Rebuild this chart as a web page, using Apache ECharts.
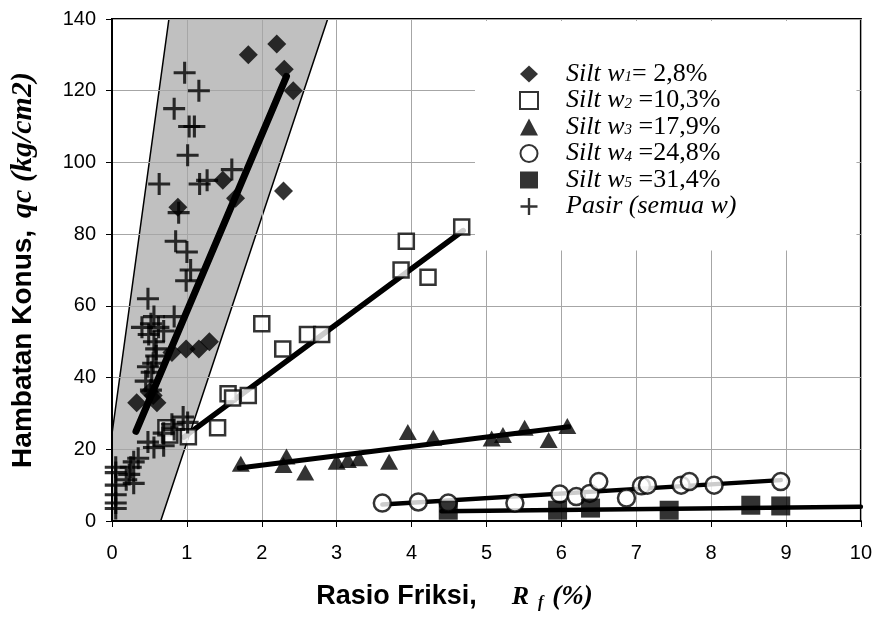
<!DOCTYPE html>
<html>
<head>
<meta charset="utf-8">
<script src="https://cdn.jsdelivr.net/npm/echarts@6/dist/echarts.min.js"></script>
<style>
  html, body { margin: 0; padding: 0; background: #fff; }
  #chart { width: 875px; height: 618px; }
</style>
</head>
<body>
<div id="chart"></div>
<script>
// Cone resistance qc (kg/cm2) versus friction ratio Rf (%) per soil group
const silt1 = [[1.82,130],[2.2,133],[2.3,126],[2.42,120],[2.29,92],[1.65,90],[1.48,95],[0.88,87.5],
  [0.8,47],[0.99,48],[1.16,48],[1.3,50],[0.33,33],[0.5,36],[0.55,35],[0.6,33]];
const silt2 = [[4.67,82],[3.93,78],[3.86,70],[4.22,68],[2.0,55],[2.28,48],[2.61,52],[2.8,52],
  [1.55,35.5],[1.61,34.3],[1.82,35],[1.41,26],[1.02,23.5],[0.72,26],[0.77,24]];
const silt3 = [[1.72,16],[2.29,15.6],[2.33,18],[2.58,13.5],[3.0,16.5],[3.15,17],[3.3,17.5],[3.7,16.5],
  [3.95,24.8],[4.29,23.2],[5.07,23],[5.22,24],[5.51,26],[5.83,22.6],[6.08,26.5]];
const silt4 = [[3.61,5],[4.09,5.3],[4.49,5],[5.38,5],[5.98,7.5],[6.2,6.8],[6.38,7.7],[6.5,11],
  [6.87,6.4],[7.07,9.8],[7.15,10],[7.6,10],[7.71,11],[8.04,10],[8.93,11]];
const silt5 = [[4.49,3],[5.95,3],[6.39,3.6],[7.44,3],[8.53,4.4],[8.93,4.2]];
const pasir = [[0.97,125],[1.16,120],[0.83,115],[1.03,110],[1.1,110],[1.01,102],[0.63,94],[1.17,94],
  [1.27,95],[1.6,98],[0.89,86],[0.85,78],[1.0,75],[1.05,70],[0.99,67],[0.48,62],[0.83,57],
  [0.4,54],[0.52,55],[0.62,54],[0.69,53],[0.56,57],[0.49,52],[0.56,50],[0.59,48],[0.59,46],
  [0.55,44],[0.48,43],[0.53,41.5],[0.45,39],[0.52,36.5],[0.95,29],[1.01,27.5],[0.83,25.5],
  [0.69,24.5],[0.48,22],[0.69,21],[0.56,20.5],[0.35,17.5],[0.29,16.5],[0.25,15],[0.23,13],
  [0.19,11.5],[0.29,10.5],[0.05,15],[0.05,13.5],[0.05,10],[0.05,7.3],[0.05,5],[0.05,3.5],[0.8,27]];

// Trend lines per silt group
const fit1 = [[0.32,25],[2.33,124]];
const fit2 = [[0.96,23.4],[4.69,81]];
const fit3 = [[1.7,14.8],[6.1,26.3]];
const fit4 = [[3.61,4.6],[8.93,11.4]];
const fit5 = [[4.4,2.7],[10,4.0]];

// Zone occupied by sand
const sandZone = [[0.76,140],[2.88,140],[0.65,0],[-0.16,0]];

// Axis ranges and tick steps
const xRange = [0, 10], xStep = 1;
const yRange = [0, 140], yStep = 20;

const seriesNames = ['Silt w1','Silt w2','Silt w3','Silt w4','Silt w5','Pasir'];
const legendText = {
  'Silt w1': '{sp|}{i|Silt w}{s|1}{n|= 2,8%}',
  'Silt w2': '{sp|}{i|Silt w}{s|2}{n| =10,3%}',
  'Silt w3': '{sp|}{i|Silt w}{s|3}{n| =17,9%}',
  'Silt w4': '{sp|}{i|Silt w}{s|4}{n| =24,8%}',
  'Silt w5': '{sp|}{i|Silt w}{s|5}{n| =31,4%}',
  'Pasir':   '{sp|}{i|Pasir (semua w)}'
};

const plusPath = 'path://M8.6,0H11.4V8.6H20V11.4H11.4V20H8.6V11.4H0V8.6H8.6Z';
const serif = 'Liberation Serif';
const sans = 'Liberation Sans';

const chart = echarts.init(document.getElementById('chart'), null, { renderer: 'canvas' });

function scatter(name, data, symbol, size, style) {
  return { name, type: 'scatter', data, symbol, symbolSize: size, z: 3,
    itemStyle: style, emphasis: { disabled: true } };
}
function fitLine(data, w) {
  return { type: 'line', data, symbol: 'none', z: 2, silent: true,
    lineStyle: { color: '#000', width: w, cap: 'round' } };
}

chart.setOption({
  animation: false,
  backgroundColor: '#fff',
  grid: { left: 111, right: 13, top: 19, bottom: 97, show: true,
    borderColor: '#000', borderWidth: 2, backgroundColor: '#fff' },
  xAxis: {
    type: 'value', min: xRange[0], max: xRange[1], interval: xStep, z: 1,
    axisLine: { lineStyle: { color: '#000', width: 2 } },
    axisTick: { show: true, length: 6, lineStyle: { color: '#000', width: 1 } },
    splitLine: { show: true, lineStyle: { color: '#a6a6a6', width: 1 } },
    axisLabel: { color: '#000', fontFamily: sans, fontSize: 20, margin: 22 },
    name: '{b|Rasio Friksi,}{g|}{r|R}{f|f}{p|(%)}{e|}',
    nameLocation: 'middle', nameGap: 62,
    nameTextStyle: { rich: {
      b: { fontFamily: sans, fontWeight: 'bold', fontSize: 27, color: '#000', lineHeight: 28, verticalAlign: 'middle' },
      g: { width: 35 },
      r: { fontFamily: serif, fontWeight: 'bold', fontStyle: 'italic', fontSize: 26, color: '#000', lineHeight: 28, verticalAlign: 'middle' },
      f: { fontFamily: serif, fontWeight: 'bold', fontStyle: 'italic', fontSize: 16, color: '#000', lineHeight: 16, verticalAlign: 'bottom', width: 23 },
      p: { fontFamily: serif, fontWeight: 'bold', fontStyle: 'italic', fontSize: 27, color: '#000', lineHeight: 28, verticalAlign: 'middle' },
      e: { width: 64 }
    } }
  },
  yAxis: {
    type: 'value', min: yRange[0], max: yRange[1], interval: yStep, z: 1,
    axisLine: { lineStyle: { color: '#000', width: 2 } },
    axisTick: { show: true, length: 6, lineStyle: { color: '#000', width: 1 } },
    splitLine: { show: true, lineStyle: { color: '#a6a6a6', width: 1 } },
    axisLabel: { color: '#000', fontFamily: sans, fontSize: 20, margin: 16 },
    name: '{b|Hambatan Konus,}{g|}{q|qc (kg/cm2)}',
    nameLocation: 'middle', nameGap: 74, nameRotate: 90,
    nameTextStyle: { rich: {
      b: { fontFamily: sans, fontWeight: 'bold', fontSize: 28, color: '#000' },
      g: { width: 12 },
      q: { fontFamily: serif, fontWeight: 'bold', fontStyle: 'italic', fontSize: 30, color: '#000' }
    } }
  },
  legend: {
    data: seriesNames,
    orient: 'vertical', left: 475, top: 21,
    padding: [40, 120, 31, 44],
    backgroundColor: '#fff',
    itemWidth: 18, itemHeight: 17, itemGap: 0.5,
    selectedMode: false,
    formatter: n => legendText[n],
    textStyle: { color: '#000', rich: {
      sp: { width: 23 },
      i: { fontFamily: serif, fontStyle: 'italic', fontSize: 26, lineHeight: 22, verticalAlign: 'middle', color: '#000' },
      s: { fontFamily: serif, fontStyle: 'italic', fontSize: 15, lineHeight: 12, verticalAlign: 'bottom', color: '#000' },
      n: { fontFamily: serif, fontSize: 26, lineHeight: 22, verticalAlign: 'middle', color: '#000' }
    } }
  },
  series: [
    { type: 'custom', z: 0.5, silent: true, clip: true, data: [0],
      renderItem: (params, api) => ({
        type: 'polygon',
        shape: { points: sandZone.map(p => api.coord(p)) },
        style: { fill: '#c0c0c0', stroke: '#000', lineWidth: 1.5 }
      }) },
    fitLine(fit1, 7), fitLine(fit2, 5.5), fitLine(fit3, 5), fitLine(fit4, 4.5), fitLine(fit5, 4.5),
    scatter('Silt w1', silt1, 'diamond', [19, 19], { color: '#000' }),
    scatter('Silt w2', silt2, 'rect', [15, 15], { color: '#fff', borderColor: '#000', borderWidth: 2.5 }),
    scatter('Silt w3', silt3, 'triangle', [18, 16], { color: '#000' }),
    scatter('Silt w4', silt4, 'circle', 17, { color: '#fff', borderColor: '#000', borderWidth: 2.5 }),
    scatter('Silt w5', silt5, 'rect', [19, 19], { color: '#000' }),
    scatter('Pasir', pasir, plusPath, [22, 22], { color: '#000' })
  ]
});
</script>
</body>
</html>
